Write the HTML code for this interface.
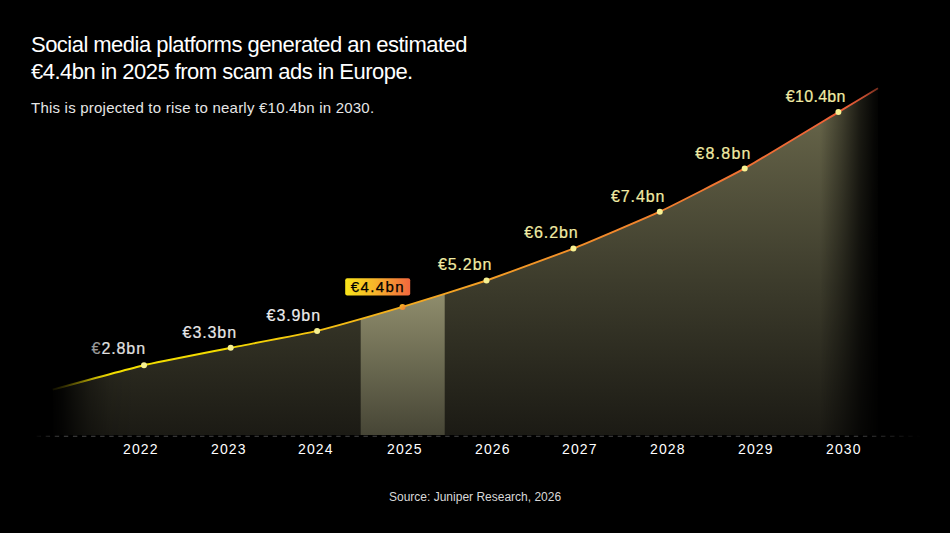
<!DOCTYPE html>
<html><head><meta charset="utf-8">
<style>
html,body{margin:0;padding:0;background:#000;}
body{width:950px;height:533px;position:relative;overflow:hidden;font-family:"Liberation Sans",sans-serif;color:#fff;}
.t{position:absolute;white-space:nowrap;}
#title{left:31px;top:32px;font-size:22px;line-height:26.5px;letter-spacing:-0.53px;color:#fff;}
#sub{left:31px;top:98.5px;font-size:15px;line-height:18px;color:#e6e6e6;letter-spacing:0.22px;}
.v{font-size:16px;line-height:16px;letter-spacing:0.9px;-webkit-text-stroke:0.2px currentColor;}
.c{color:#f1eba4;}
.y{font-size:14px;line-height:14px;color:#fff;letter-spacing:1.1px;}
#src{left:389px;top:489.5px;font-size:12px;line-height:14px;color:#d8d8d8;}
svg{position:absolute;left:0;top:0;}
</style></head><body>
<svg width="950" height="533" viewBox="0 0 950 533">
<defs>
<linearGradient id="fillg" x1="0" y1="90" x2="0" y2="436" gradientUnits="userSpaceOnUse">
<stop offset="0" stop-color="#6c6a4d"/>
<stop offset="0.55" stop-color="#3d3c2c"/>
<stop offset="1" stop-color="#1b1a14"/>
</linearGradient>
<linearGradient id="bandg" x1="0" y1="300" x2="0" y2="436" gradientUnits="userSpaceOnUse">
<stop offset="0" stop-color="#8c8a6a"/>
<stop offset="1" stop-color="#464535"/>
</linearGradient>
<linearGradient id="lineg" x1="52" y1="0" x2="876" y2="0" gradientUnits="userSpaceOnUse">
<stop offset="0" stop-color="#f4e000"/>
<stop offset="0.2" stop-color="#f4dc00"/>
<stop offset="0.45" stop-color="#f4a822"/>
<stop offset="0.7" stop-color="#f2862c"/>
<stop offset="1" stop-color="#ee5a3a"/>
</linearGradient>
<linearGradient id="maskg" x1="0" y1="0" x2="950" y2="0" gradientUnits="userSpaceOnUse">
<stop offset="0.0526" stop-color="#000000"/>
<stop offset="0.0653" stop-color="#262626"/>
<stop offset="0.0789" stop-color="#6b6b6b"/>
<stop offset="0.0947" stop-color="#b2b2b2"/>
<stop offset="0.1158" stop-color="#ebebeb"/>
<stop offset="0.1421" stop-color="#ffffff"/>
<stop offset="0.8632" stop-color="#ffffff"/>
<stop offset="0.8863" stop-color="#9e9e9e"/>
<stop offset="0.9053" stop-color="#424242"/>
<stop offset="0.9200" stop-color="#121212"/>
<stop offset="0.9284" stop-color="#000000"/>
</linearGradient>
<linearGradient id="maskd" x1="0" y1="0" x2="950" y2="0" gradientUnits="userSpaceOnUse">
<stop offset="0.035" stop-color="#000"/>
<stop offset="0.065" stop-color="#fff"/>
<stop offset="0.9" stop-color="#fff"/>
<stop offset="0.97" stop-color="#000"/>
</linearGradient>
<mask id="m" maskUnits="userSpaceOnUse" x="0" y="0" width="950" height="533"><rect x="0" y="0" width="950" height="533" fill="url(#maskg)"/></mask>
<mask id="md" maskUnits="userSpaceOnUse" x="0" y="0" width="950" height="533"><rect x="0" y="0" width="950" height="533" fill="url(#maskd)"/></mask>
<clipPath id="areaclip"><path d="M52.7,389.6 C58.2,388.1 133.3,367.7 144.0,365.2 C154.7,362.7 220.3,349.9 230.7,347.8 C241.1,345.7 306.8,333.4 317.1,330.9 C327.4,328.4 392.3,309.9 402.5,306.9 C412.7,303.9 476.2,284.0 486.5,280.5 C496.8,277.0 563.0,252.7 573.4,248.6 C583.8,244.5 649.5,216.5 659.8,211.7 C670.1,206.9 734.0,174.4 744.7,168.4 C755.4,162.4 830.4,116.9 838.4,112.1 C846.4,107.3 875.6,89.7 878.0,88.3 L878,436 L52.7,436 Z"/></clipPath>
<linearGradient id="badgeg" x1="0" y1="0" x2="1" y2="0">
<stop offset="0" stop-color="#f8e41a"/>
<stop offset="0.45" stop-color="#f7b52a"/>
<stop offset="1" stop-color="#f2673e"/>
</linearGradient>
<linearGradient id="dotg" x1="0" y1="0" x2="1" y2="1">
<stop offset="0" stop-color="#f6c020"/>
<stop offset="1" stop-color="#f07838"/>
</linearGradient>
<linearGradient id="maskl" x1="0" y1="0" x2="950" y2="0" gradientUnits="userSpaceOnUse">
<stop offset="0.0526" stop-color="#0a0a0a"/>
<stop offset="0.0684" stop-color="#333333"/>
<stop offset="0.0842" stop-color="#737373"/>
<stop offset="0.1000" stop-color="#cccccc"/>
<stop offset="0.1179" stop-color="#ffffff"/>
<stop offset="0.8895" stop-color="#ffffff"/>
<stop offset="0.9105" stop-color="#cccccc"/>
<stop offset="0.9253" stop-color="#737373"/>
</linearGradient>
<mask id="ml" maskUnits="userSpaceOnUse" x="0" y="0" width="950" height="533"><rect x="0" y="0" width="950" height="533" fill="url(#maskl)"/></mask>
</defs>
<g mask="url(#m)">
<path d="M52.7,389.6 C58.2,388.1 133.3,367.7 144.0,365.2 C154.7,362.7 220.3,349.9 230.7,347.8 C241.1,345.7 306.8,333.4 317.1,330.9 C327.4,328.4 392.3,309.9 402.5,306.9 C412.7,303.9 476.2,284.0 486.5,280.5 C496.8,277.0 563.0,252.7 573.4,248.6 C583.8,244.5 649.5,216.5 659.8,211.7 C670.1,206.9 734.0,174.4 744.7,168.4 C755.4,162.4 830.4,116.9 838.4,112.1 C846.4,107.3 875.6,89.7 878.0,88.3 L878,435 L52.7,435 Z" fill="url(#fillg)"/>
<rect x="360.7" y="280" width="84" height="155" fill="url(#bandg)" clip-path="url(#areaclip)"/>
</g>
<path d="M52.7,389.6 C58.2,388.1 133.3,367.7 144.0,365.2 C154.7,362.7 220.3,349.9 230.7,347.8 C241.1,345.7 306.8,333.4 317.1,330.9 C327.4,328.4 392.3,309.9 402.5,306.9 C412.7,303.9 476.2,284.0 486.5,280.5 C496.8,277.0 563.0,252.7 573.4,248.6 C583.8,244.5 649.5,216.5 659.8,211.7 C670.1,206.9 734.0,174.4 744.7,168.4 C755.4,162.4 830.4,116.9 838.4,112.1 C846.4,107.3 875.6,89.7 878.0,88.3" fill="none" stroke="url(#lineg)" stroke-width="1.9" mask="url(#ml)"/>
<line x1="36.6" y1="436.3" x2="920" y2="436.3" stroke="#484848" stroke-width="1.1" stroke-dasharray="4.4 4.68" mask="url(#md)"/>
<g fill="#f7f192">
<circle cx="144" cy="365.2" r="3"/>
<circle cx="230.7" cy="347.8" r="3"/>
<circle cx="317.1" cy="330.9" r="3"/>
<circle cx="402.5" cy="306.9" r="3" fill="url(#dotg)"/>
<circle cx="486.5" cy="280.5" r="3"/>
<circle cx="573.4" cy="248.6" r="3"/>
<circle cx="659.8" cy="211.7" r="3"/>
<circle cx="744.7" cy="168.4" r="3"/>
<circle cx="838.4" cy="112.1" r="3"/>
</g>
<rect x="345.2" y="278.3" width="65" height="17.3" rx="2" fill="url(#badgeg)"/>
</svg>
<div class="t" id="title">Social media platforms generated an estimated<br>€4.4bn in 2025 from scam ads in Europe.</div>
<div class="t" id="sub">This is projected to rise to nearly €10.4bn in 2030.</div>

<div class="t v" style="left:91.6px;top:341px;color:#e0e0e0"><span style="color:#9a9a9a">€</span>2.8bn</div>
<div class="t v" style="left:182.6px;top:324.5px;color:#e8e8e8">€3.3bn</div>
<div class="t v" style="left:266.6px;top:307.5px;color:#ececec">€3.9bn</div>
<div class="t v" style="left:350.8px;top:279px;color:#000;font-size:15px;letter-spacing:1.4px;-webkit-text-stroke:0.25px #000">€4.4bn</div>
<div class="t v c" style="left:437.9px;top:257px">€5.2bn</div>
<div class="t v c" style="left:524.2px;top:225px">€6.2bn</div>
<div class="t v c" style="left:611px;top:188.5px">€7.4bn</div>
<div class="t v c" style="left:695.3px;top:145.5px;letter-spacing:1.25px">€8.8bn</div>
<div class="t v c" style="left:785.8px;top:89px;letter-spacing:0.3px">€10.4bn</div>

<div class="t y" style="left:123px;top:442px">2022</div>
<div class="t y" style="left:211px;top:442px">2023</div>
<div class="t y" style="left:298px;top:442px">2024</div>
<div class="t y" style="left:387px;top:442px">2025</div>
<div class="t y" style="left:475px;top:442px">2026</div>
<div class="t y" style="left:562px;top:442px">2027</div>
<div class="t y" style="left:650px;top:442px">2028</div>
<div class="t y" style="left:738px;top:442px">2029</div>
<div class="t y" style="left:826px;top:442px">2030</div>

<div class="t" id="src">Source: Juniper Research, 2026</div>
</body></html>
